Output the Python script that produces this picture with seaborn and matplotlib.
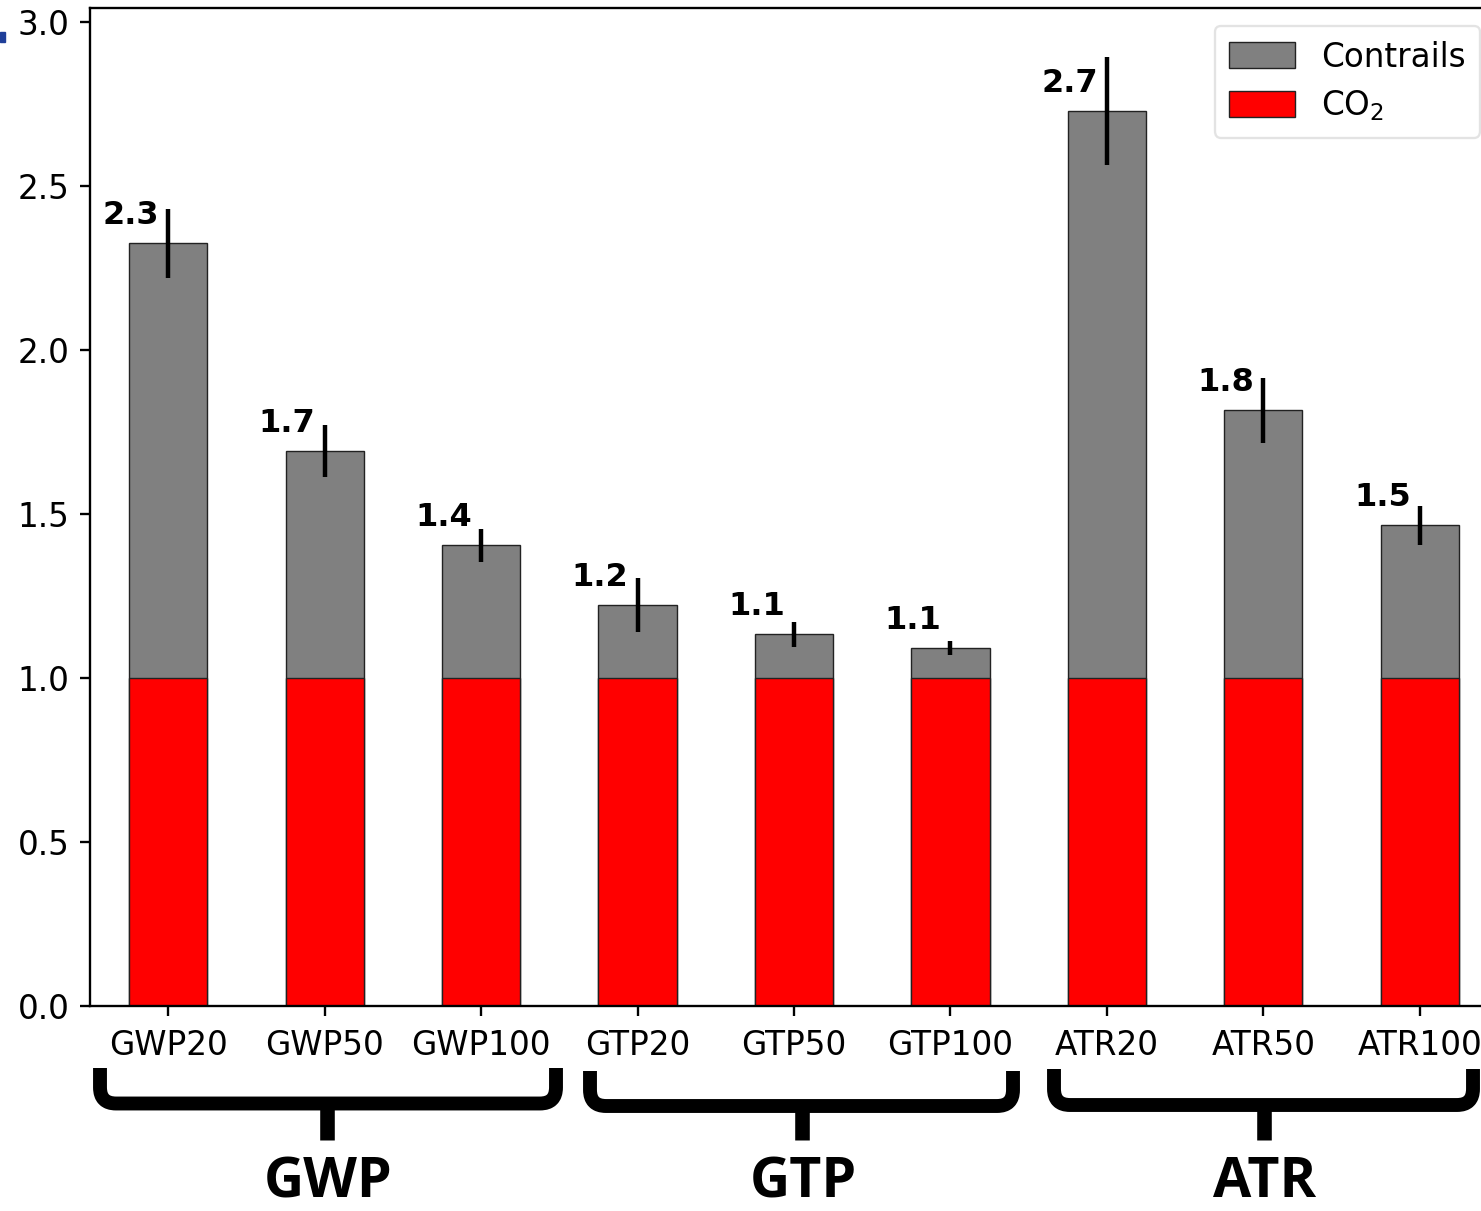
import matplotlib
matplotlib.use("Agg")
import matplotlib.pyplot as plt
from matplotlib.lines import Line2D
from matplotlib.patches import Rectangle, PathPatch
from matplotlib.path import Path
import seaborn as sns
import pandas as pd
import numpy as np

categories = ["GWP20", "GWP50", "GWP100", "GTP20", "GTP50", "GTP100", "ATR20", "ATR50", "ATR100"]
co2 = [1.0, 1.0, 1.0, 1.0, 1.0, 1.0, 1.0, 1.0, 1.0]
contrails = [1.326, 0.692, 0.405, 0.223, 0.134, 0.091, 1.729, 0.817, 0.466]
errors = [0.105, 0.08, 0.05, 0.082, 0.038, 0.021, 0.166, 0.099, 0.059]
labels = ["2.3", "1.7", "1.4", "1.2", "1.1", "1.1", "2.7", "1.8", "1.5"]
groups = ["GWP", "GTP", "ATR"]

sns.set_style("ticks")
plt.rcParams["font.family"] = ["DejaVu Sans"]
S = 2.1
plt.rcParams.update({
    "font.size": 23.5,
    "text.color": "black",
    "axes.labelcolor": "black",
    "axes.linewidth": 0.8 * S,
    "xtick.major.size": 3.5 * S, "ytick.major.size": 3.5 * S,
    "xtick.major.width": 0.8 * S, "ytick.major.width": 0.8 * S,
    "xtick.major.pad": 3.5 * S + 2, "ytick.major.pad": 3.5 * S,
    "xtick.color": "black", "ytick.color": "black",
    "axes.edgecolor": "black",
})

W, H = 1481, 1211
fig = plt.figure(figsize=(W / 100, H / 100), dpi=100)
ax_left, ax_right, ax_top, ax_bot = 90, 1498, 8, 1006
ax = fig.add_axes([ax_left / W, 1 - ax_bot / H, (ax_right - ax_left) / W, (ax_bot - ax_top) / H])

total = [c + t for c, t in zip(co2, contrails)]
df = pd.DataFrame({"cat": categories, "co2": co2, "total": total})

sns.barplot(data=df, x="cat", y="total", color="#808080", saturation=1, width=0.5,
            edgecolor="#222222", linewidth=1.0, ax=ax, label="Contrails")
sns.barplot(data=df, x="cat", y="co2", color="#ff0000", saturation=1, width=0.5,
            edgecolor="#222222", linewidth=1.0, ax=ax, label="CO$_2$")

xs = np.arange(len(categories))
ax.errorbar(xs, total, yerr=errors, fmt="none", ecolor="black", elinewidth=3.2, capsize=0)

for x, t, lab in zip(xs, total, labels):
    ax.text(x - 0.058, t + 0.036, lab, ha="right", va="bottom", fontsize=23,
            fontweight="bold", color="black")

ax.set_xlim(-0.5, 8.5)
ax.set_ylim(0, 3.043)
ax.set_yticks([0, 0.5, 1.0, 1.5, 2.0, 2.5, 3.0])
ax.set_yticklabels(["0.0", "0.5", "1.0", "1.5", "2.0", "2.5", "3.0"])
ax.set_xlabel("")
ax.set_ylabel("")
ax.tick_params(labelsize=23.5)
for s in ax.spines.values():
    s.set_visible(True)

leg = ax.legend(loc="upper right", fontsize=23.5, frameon=True, handlelength=2.0,
                handleheight=0.85, labelspacing=0.45, borderpad=0.45, borderaxespad=0.55)
leg.get_frame().set_linewidth(0.8 * S)
leg.get_frame().set_edgecolor("#dddddd")

# brackets (figure pixel coords)
def px(x, y):
    return x / W, 1 - y / H

brackets = [(100, 556, 327, 1068, 1103.5), (590, 1013, 802, 1071, 1106), (1054, 1473, 1264, 1069, 1105)]
r = 16
for (x0, x1, xc, top, mid), g in zip(brackets, groups):
    pts = [(x0, top), (x0, mid - r), (x0, mid), (x0 + r, mid),
           (x1 - r, mid), (x1, mid), (x1, mid - r), (x1, top)]
    codes = [Path.MOVETO, Path.LINETO, Path.CURVE3, Path.CURVE3,
             Path.LINETO, Path.CURVE3, Path.CURVE3, Path.LINETO]
    path = Path([px(a, b) for a, b in pts], codes)
    fig.add_artist(PathPatch(path, transform=fig.transFigure, facecolor="none",
                             edgecolor="black", lw=10, capstyle="butt", joinstyle="round"))
    cx, cy0 = px(xc, mid)
    _, cy1 = px(xc, 1140)
    fig.add_artist(Line2D([cx, cx], [cy0, cy1], color="black", lw=10.5, solid_capstyle="butt"))
    tx, ty = px(xc + 1, 1210)
    fig.text(tx, ty, g, ha="center", va="bottom", fontsize=40, fontweight="bold",
             family=["Open Sans", "DejaVu Sans"], color="black")

# small blue mark at top left
bx, by = px(0, 42)
fig.add_artist(Rectangle((bx, by), 5 / W, 10 / H, transform=fig.transFigure, color="#1f3f99"))

fig.savefig("out.png", dpi=100)
